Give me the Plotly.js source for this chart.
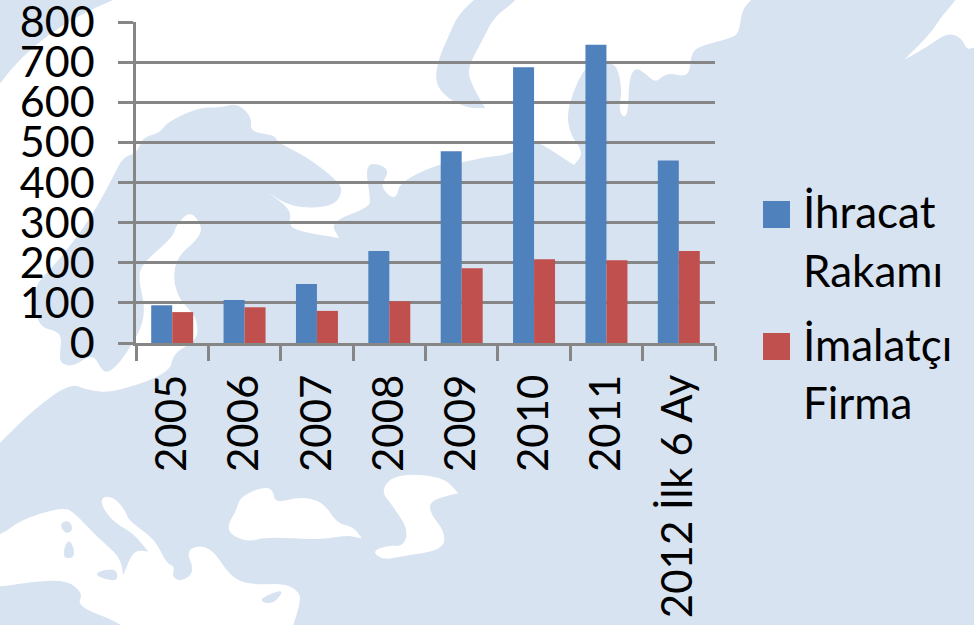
<!DOCTYPE html>
<html>
<head>
<meta charset="utf-8">
<script src="https://cdn.plot.ly/plotly-3.0.1.min.js"></script>
<style>html,body{margin:0;padding:0;background:#fff}#c{width:974px;height:625px}</style>
</head>
<body>
<div id="c"></div>
<script>
const categories = ['2005','2006','2007','2008','2009','2010','2011','2012 İlk 6 Ay'];
const ihracat = [94,107,147,229,478,687,743,455];
const imalatci = [77,89,80,104,186,209,206,229];
const yTicks = [0,100,200,300,400,500,600,700,800];
const seriesNames = ['İhracat Rakamı','İmalatçı Firma'];
const seriesColors = ['#4f81bd','#c0504d'];

const W = 974, H = 625, L = 136, R = 715, T = 22, B = 343;
const px = x => (x - L) / (R - L);
const py = y => (B - y) / (B - T);
const z3 = pts => pts.map(p => [p[0] / 3, 310 + p[1] / 3]);
const LAND = '#d7e3f1', SEA = '#ffffff';

// Decorative background map (water and islands), in picture pixels
const northWest = [[-40,-40],[790,-40],[751,0],[742,10],[739,33],[731,38],[697,47],[691,55],[689,78],[667,72],[656,83],[647,75],[636,67],[629,78],[628,115],[622,117],[619,107],[622,90],[617,65],[606,63],[586,63],[567,107],[569,133],[584,153],[574,165],[574,165],[551,150],[534,140],[509,155],[484,157],[462,163],[440,163],[400,182],[397,197],[390,197],[380,185],[389,173],[383,165],[365,163],[370,197],[370,207],[330,222],[339,238],[339,238],[308,233],[288,227],[292,210],[267,192],[267,192],[267,192],[293,208],[333,207],[344,190],[333,177],[307,157],[277,142],[275,135],[250,132],[252,117],[237,103],[220,108],[200,107],[167,122],[160,133],[143,137],[137,153],[123,157],[113,177],[97,207],[80,233],[53,267],[33,287],[37,327],[62,332],[60,353],[60,363],[73,367],[93,353],[103,373],[113,370],[127,353],[147,317],[138,277],[143,263],[173,237],[175,227],[190,210],[203,227],[197,240],[177,257],[173,280],[180,300],[190,310],[197,320],[198,340],[173,353],[170,373],[113,393],[87,390],[70,383],[33,410],[0,443],[-40,480]];
const topRight = [[975,-30],[956,0],[941,17],[931,33],[904,60],[904,60],[904,60],[927,47],[947,33],[961,37],[967,50],[974,47],[1030,40],[1030,-30]];
const blackSea = z3([[680,650],[710,600],[720,560],[790,530],[820,540],[825,580],[900,560],[970,575],[1010,640],[1060,650],[1085,685],[1085,685],[1085,685],[1040,675],[960,690],[800,680],[750,695],[700,680]]);
const caspian = z3([[1140,540],[1190,490],[1330,500],[1375,550],[1375,550],[1290,570],[1290,610],[1335,665],[1330,720],[1200,740],[1150,750],[1115,725],[1165,705],[1210,710],[1225,660],[1180,590]]);
const medSea = z3([[-120,690],[0,680],[60,630],[190,590],[225,610],[290,680],[360,740],[370,795],[370,795],[400,720],[445,725],[445,725],[400,670],[345,640],[305,590],[305,560],[340,560],[375,600],[385,630],[440,670],[470,700],[500,760],[525,770],[515,800],[545,815],[585,785],[555,715],[630,705],[690,800],[750,825],[860,820],[900,850],[900,880],[880,945],[850,1040],[450,1040],[380,945],[230,890],[250,850],[200,810],[100,815],[0,830],[-120,840]]);
const seaShapes = [northWest, topRight, blackSea, caspian, medSea];
const landShapes = [
  [[510,-30],[473,0],[457,17],[450,33],[438,60],[435,83],[447,98],[467,108],[485,108],[485,108],[473,87],[467,70],[477,50],[484,37],[494,17],[517,0],[540,-30]],
  z3([[178,640],[208,630],[220,662],[195,672]]),
  z3([[200,690],[218,700],[225,745],[186,745]]),
  z3([[278,790],[348,772],[355,812],[320,810]]),
  z3([[780,865],[855,835],[825,878],[792,880]])
];
// Smooth outline: quadratic curves through edge midpoints
const toPath = pts => {
  const P = pts.map(p => [px(p[0]), py(p[1])]);
  const mid = (a, b) => [(a[0]+b[0])/2, (a[1]+b[1])/2];
  let s = 'M' + mid(P[P.length-1], P[0]).join(',');
  P.forEach((p, i) => { s += 'Q' + p.join(',') + ' ' + mid(p, P[(i+1)%P.length]).join(','); });
  return s + 'Z';
};
const bgShape = (pts, color) => ({type:'path', xref:'paper', yref:'paper', layer:'below', path:toPath(pts), fillcolor:color, line:{width:0}});
const square = (x0, y0, x1, y1, color) => ({type:'rect', xref:'paper', yref:'paper', x0:px(x0), x1:px(x1), y0:py(y1), y1:py(y0), fillcolor:color, line:{width:0}});
const FONT = 'Lato, "Open Sans", sans-serif';
const lab = (text, x, y) => ({text, xref:'paper', yref:'paper', x:px(x), y:py(y), xanchor:'left', yanchor:'middle', showarrow:false, borderpad:0, align:'left', font:{family:FONT, size:44, color:'#000'}});

const traces = [
  {type:'bar', name:seriesNames[0], x:categories, y:ihracat, marker:{color:seriesColors[0]}},
  {type:'bar', name:seriesNames[1], x:categories, y:imalatci, marker:{color:seriesColors[1]}}
];
const layout = {
  width:W, height:H, autosize:false, showlegend:false, barmode:'group', bargap:0.42, bargroupgap:0,
  margin:{l:L, r:W-R, t:T, b:H-B, pad:0},
  paper_bgcolor:LAND, plot_bgcolor:'rgba(0,0,0,0)',
  font:{family:FONT, color:'#000'},
  xaxis:{type:'category', range:[-0.5,7.5], tickson:'boundaries', ticks:'outside', ticklen:15, tickwidth:2.5, tickcolor:'#868686', showline:true, linecolor:'#868686', linewidth:2.5, showgrid:false, tickangle:-90, ticklabelstandoff:12, ticklabeloverflow:'allow', tickfont:{family:FONT, size:42, color:'#000'}, automargin:false},
  yaxis:{range:[0,800], tickvals:yTicks, ticks:'outside', ticklen:15, tickwidth:2.5, tickcolor:'#868686', showline:true, linecolor:'#868686', linewidth:2.5, showgrid:true, gridcolor:'#868686', gridwidth:2.5, zeroline:false, ticklabelstandoff:15, ticklabeloverflow:'allow', tickfont:{family:FONT, size:43, color:'#000'}, automargin:false},
  shapes: seaShapes.map(s => bgShape(s, SEA)).concat(landShapes.map(s => bgShape(s, LAND))).concat([
    square(763,201,790,228,seriesColors[0]),
    square(763,333,790,360,seriesColors[1])
  ]),
  annotations:[lab('İhracat',802,211), lab('Rakamı',802,270), lab('İmalatçı',802,344), lab('Firma',802,402)]
};
Plotly.newPlot('c', traces, layout, {displayModeBar:false, responsive:false});
</script>
</body>
</html>
